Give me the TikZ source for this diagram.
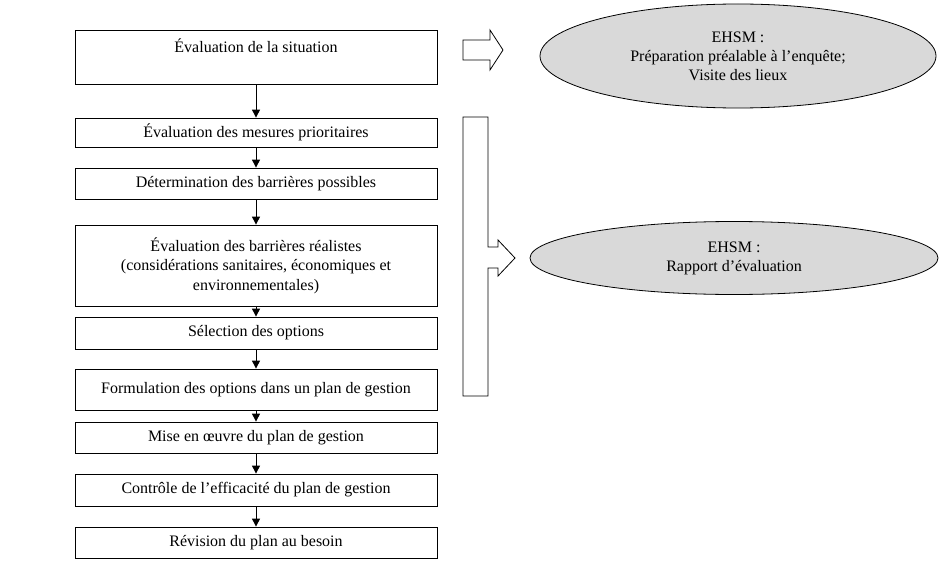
\documentclass[tikz,border=0pt]{standalone}
\usepackage{fontspec}
\setmainfont{Liberation Serif}
\usetikzlibrary{arrows.meta,shapes.geometric}
\begin{document}
\begin{tikzpicture}[x=1pt,y=-1pt,
  bx/.style={draw,line width=0.8pt,minimum width=362pt,align=center,font=\fontsize{16}{19.5}\selectfont,inner sep=0pt},
  ar/.style={line width=1pt,-{Triangle[width=8pt,length=8pt]}},
  el/.style={draw,ellipse,fill=gray!30,line width=0.8pt,align=center,font=\fontsize{16}{19}\selectfont,inner sep=0pt}]
\useasboundingbox (0,0) rectangle (939,575);
\node[bx,minimum height=54pt,anchor=north] (b1) at (256,30) {};
\node[font=\fontsize{16}{19}\selectfont] at (256,46) {Évaluation de la situation};
\node[bx,minimum height=29pt] (b2) at (256,132.5) {Évaluation des mesures prioritaires};
\node[bx,minimum height=31pt] (b3) at (256,183.5) {Détermination des barrières possibles};
\node[bx,minimum height=81pt] (b4) at (256,265.5) {Évaluation des barrières réalistes\\(considérations sanitaires, économiques et\\environnementales)};
\node[bx,minimum height=32pt] (b5) at (256,333) {Sélection des options};
\node[bx,minimum height=41pt] (b6) at (256,389.5) {Formulation des options dans un plan de gestion};
\node[bx,minimum height=31pt] (b7) at (256,437.5) {Mise en œuvre du plan de gestion};
\node[bx,minimum height=32pt] (b8) at (256,490) {Contrôle de l’efficacité du plan de gestion};
\node[bx,minimum height=31pt] (b9) at (256,542.5) {Révision du plan au besoin};
\draw[ar] (b1) -- (b2);
\draw[ar] (b2) -- (b3);
\draw[ar] (b3) -- (b4);
\draw[ar] (b4) -- (b5);
\draw[ar] (b5) -- (b6);
\draw[ar] (b6) -- (b7);
\draw[ar] (b7) -- (b8);
\draw[ar] (b8) -- (b9);
\draw[line width=0.8pt] (463,40) -- (490,40) -- (490,30) -- (503,50) -- (490,70) -- (490,60) -- (463,60) -- cycle;
\draw[line width=0.8pt] (463,117) -- (488,117) -- (488,247) -- (498,247) -- (498,240) -- (515,258) -- (498,276) -- (498,268) -- (488,268) -- (488,396) -- (463,396) -- cycle;
\node[el,minimum width=396pt,minimum height=104pt] (e1) at (738,56) {EHSM :\\Préparation préalable à l’enquête;\\Visite des lieux};
\node[el,minimum width=408pt,minimum height=73pt] (e2) at (734,258) {EHSM :\\Rapport d’évaluation};
\end{tikzpicture}
\end{document}
